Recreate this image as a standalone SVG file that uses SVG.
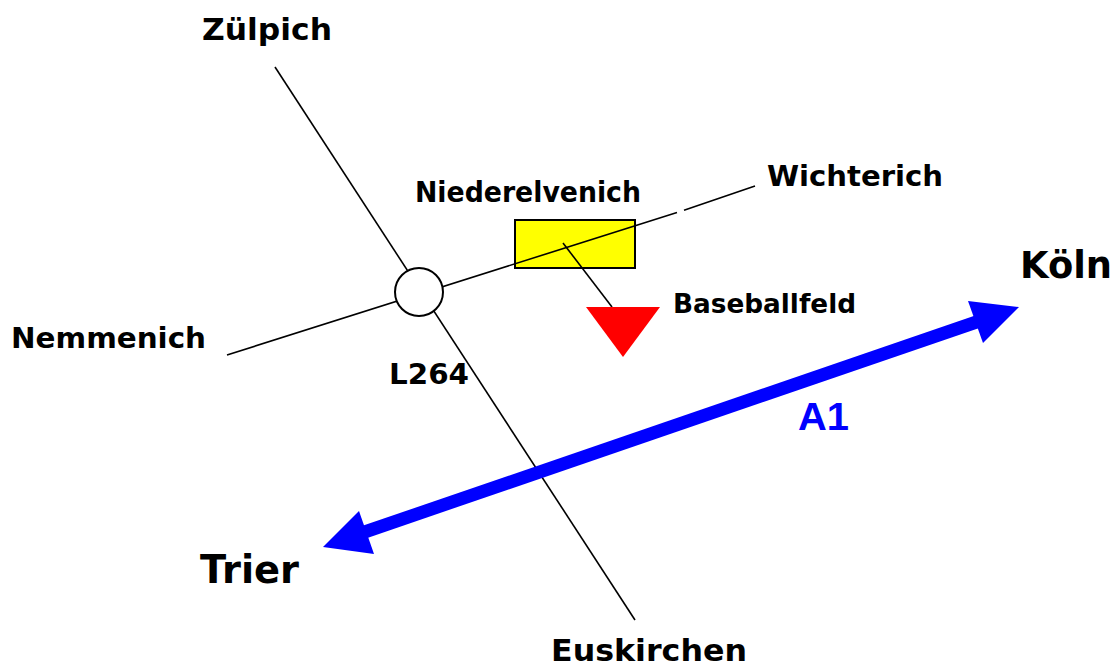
<svg xmlns="http://www.w3.org/2000/svg" width="1115" height="664" viewBox="0 0 1115 664">
<style>
text{font-family:"DejaVu Sans","Liberation Sans",sans-serif;font-weight:700;fill:#000}
.road{stroke:#000;stroke-width:1.6;fill:none}
</style>
<rect width="1115" height="664" fill="#fff"/>
<g id="niederelvenich">
<rect x="515" y="220" width="120" height="48" fill="#ff0" stroke="#000" stroke-width="2"/>
<text x="415" y="202" font-size="29" textLength="226" lengthAdjust="spacingAndGlyphs">Niederelvenich</text>
</g>
<g id="connectors">
<path class="road" d="M275 67L635 620"/>
<path class="road" d="M227 355L677 212.500M684 210.200L755 186"/>
<path class="road" d="M563 243L612 307"/>
</g>
<g id="kreisel"><circle cx="419" cy="292" r="24" fill="#fff" stroke="#000" stroke-width="2"/></g>
<g id="baseballfeld">
<polygon points="586,307 660,307 623,357" fill="#f00"/>
<text x="673" y="313" font-size="26" textLength="183" lengthAdjust="spacingAndGlyphs">Baseballfeld</text>
</g>
<g id="a1">
<line x1="350" y1="537" x2="994" y2="316" stroke="#00f" stroke-width="13"/>
<polygon points="1019,307 968,301 983,343" fill="#00f"/>
<polygon points="323,547 359,511 374,554" fill="#00f"/>
<text x="798" y="430" font-size="39" textLength="51" lengthAdjust="spacingAndGlyphs" style="font-family:'Liberation Sans',Arial,sans-serif;fill:#00f">A1</text>
</g>
<g id="zuelpich"><text x="202" y="40" font-size="31" textLength="130" lengthAdjust="spacingAndGlyphs">Zülpich</text></g>
<g id="wichterich"><text x="767" y="186" font-size="29" textLength="176" lengthAdjust="spacingAndGlyphs">Wichterich</text></g>
<g id="koeln"><text x="1020" y="278" font-size="37" textLength="92" lengthAdjust="spacingAndGlyphs">Köln</text></g>
<g id="nemmenich"><text x="11" y="348" font-size="28" textLength="195" lengthAdjust="spacingAndGlyphs">Nemmenich</text></g>
<g id="l264"><text x="389" y="384" font-size="28" textLength="80" lengthAdjust="spacingAndGlyphs">L264</text></g>
<g id="trier"><text x="200" y="583" font-size="39" textLength="99" lengthAdjust="spacingAndGlyphs">Trier</text></g>
<g id="euskirchen"><text x="551" y="661" font-size="30" textLength="196" lengthAdjust="spacingAndGlyphs">Euskirchen</text></g>
</svg>
